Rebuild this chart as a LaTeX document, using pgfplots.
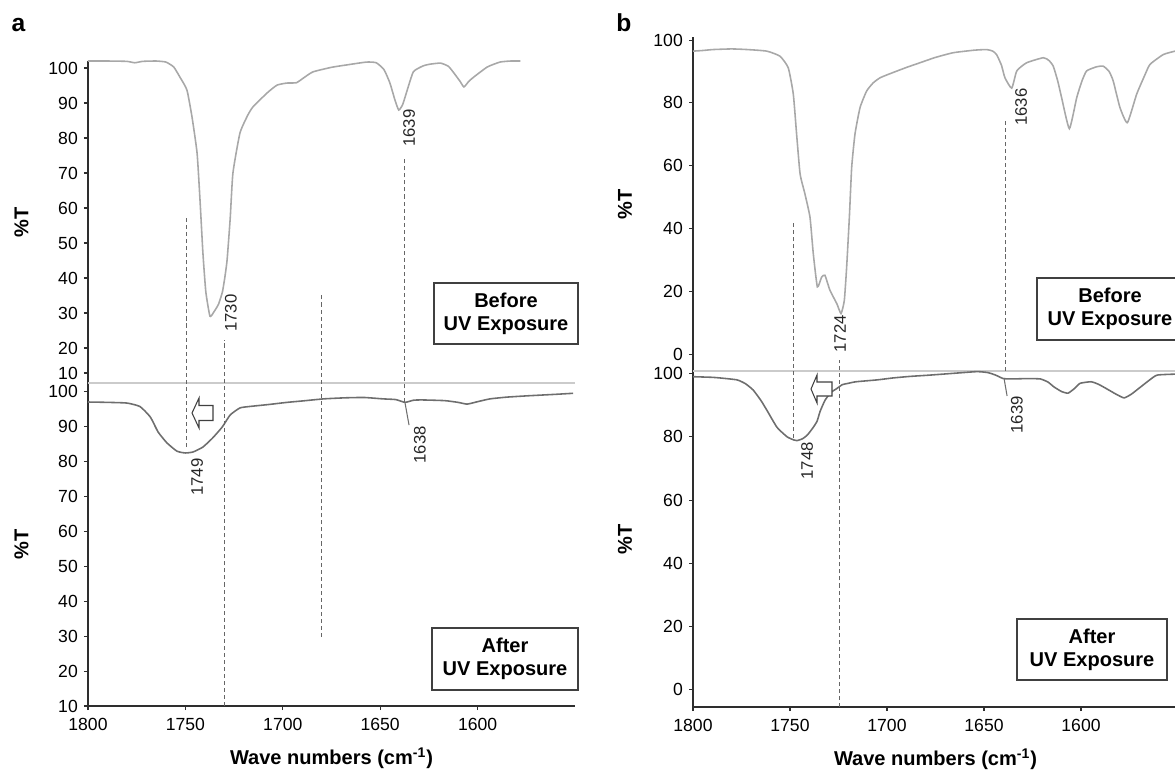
\documentclass[border=0pt]{standalone}
\usepackage{fontspec}
\setmainfont{Liberation Sans}
\usepackage{pgfplots}
\pgfplotsset{compat=1.18}

\definecolor{before}{HTML}{A8A8A8}
\definecolor{after}{HTML}{6E6E6E}
\definecolor{sep}{HTML}{CBCBCB}
\definecolor{axisk}{HTML}{2E2E2E}

% 1 px of the reference = 0.02 cm
\pgfplotsset{
  ir/.style={
    scale only axis, x dir=reverse, xmin=1550, xmax=1800, clip=false,
    axis line style={line width=1.5pt, color=axisk},
    tick style={color=axisk, line width=0.6pt},
    tick align=outside, major tick length=0.08cm,
    tick label style={font=\fontsize{10}{12}\selectfont},
    /pgf/number format/assume math mode=true,
    /pgf/number format/1000 sep={},
    ylabel={\%T},
    every axis x label/.style={at={(axis description cs:0.5,0)}, anchor=center, yshift=-1.04cm,
      font=\bfseries\fontsize{11.4}{13}\selectfont},
    xtick={1600,1650,1700,1750,1800},
    xticklabel style={yshift=-0.05cm},
  },
  upper/.style={ir, hide x axis, axis y line*=left},
  lower/.style={ir, axis lines*=left, xlabel={Wave numbers (cm\textsuperscript{-1})}},
  ylab/.style={every axis y label/.style={at={(axis description cs:#1,0.5)}, rotate=90, anchor=center,
      font=\bfseries\fontsize{11.4}{13}\selectfont}},
}
\tikzset{
  bcurve/.style={color=before, line width=0.9pt},
  acurve/.style={color=after, line width=0.9pt},
  spec/.style={smooth, tension=0.3},
  peak/.style={dash pattern=on 2.3pt off 1.7pt, color=black!60, line width=0.6pt},
  plab/.style={rotate=90, anchor=center, font=\fontsize{9.5}{11}\selectfont, text=black!85},
  stage/.style={draw=black!75, line width=0.6pt, align=center, inner sep=0pt,
      minimum width=2.9cm, minimum height=1.22cm, font=\bfseries\fontsize{11.4}{13.1}\selectfont},
  hollow/.style={draw=black!75, line width=0.6pt, fill=white},
}

\begin{document}
\begin{tikzpicture}
\path[use as bounding box, clip] (0,0) rectangle (23.5,15.4);

% ---------- panel a, before ----------
\begin{axis}[upper, ylab=-0.1366, at={(1.76cm,7.74cm)}, anchor=south west,
  width=9.74cm, height=6.44cm, ymin=10, ymax=102,
  ytick={20,30,...,100}, extra y ticks={12.86}, extra y tick labels={10}]
\addplot[bcurve, spec] coordinates {
 (1800,102.0) (1790,102.0) (1780,101.9) (1776,101.5) (1772,101.9) (1765,102.0) (1760,101.7)
 (1756,100.3) (1752.8,97.4) (1749.2,93.7) (1746.6,86.0) (1744,75.7) (1742.5,62.3) (1741,47.1)
 (1739.5,36.0) (1737.4,29.1) (1735.5,30.2) (1733,32.5) (1731,36.0) (1729.8,40.0) (1728.6,45.1)
 (1727,57.0) (1725.6,70.0) (1722,81.4) (1718,86.5) (1715.3,88.9) (1708,92.9) (1703,95.1)
 (1698,95.7) (1693,95.8) (1689,97.3) (1684.5,98.9) (1675,100.2) (1667,100.9) (1657,101.7)
 (1652,101.5) (1648,99.5) (1645,95.7) (1642.5,91.0) (1640.5,88.0) (1638.5,89.5) (1636.5,93.0)
 (1633,98.9) (1628,100.6) (1624.4,101.1) (1619,101.4) (1615,100.5) (1612.6,98.9) (1609,96.2)
 (1607,94.6) (1604.5,96.2) (1602,97.4) (1595,100.3) (1588.5,101.7) (1583,102.0) (1578,102.0)};
\end{axis}

% ---------- panel a, after ----------
\begin{axis}[lower, ylab=-0.1366, at={(1.76cm,1.28cm)}, anchor=south west,
  width=9.74cm, height=6.46cm, ymin=10, ymax=102.55, ytick={10,20,...,100}]
\draw[sep, line width=1.6pt] (rel axis cs:0,1) -- (rel axis cs:1,1);
\addplot[acurve, spec] coordinates {
 (1800,97.1) (1790,97.0) (1780,96.8) (1773.3,95.8) (1768,92.8) (1764,88.5) (1759.5,85.4)
 (1754.3,83.0) (1750,82.5) (1746,82.8) (1741,84.2) (1736,86.8) (1731,90.0) (1727,93.4)
 (1722,95.4) (1717.3,95.8) (1707,96.4) (1697.8,97.0) (1690,97.4) (1679,98.0) (1668,98.3)
 (1658.3,98.4) (1648.6,98.0) (1642,97.8) (1637.3,97.0) (1633,97.6) (1629,97.7) (1617,97.5)
 (1610,97.0) (1605.4,96.5) (1600,97.2) (1593.6,98.0) (1585,98.5) (1573.6,98.9) (1560,99.3) (1551,99.6)};
\draw[peak] (axis cs:1749.6,84.2) -- (axis cs:1749.6,149.8);
\draw[peak] (axis cs:1730,10) -- (axis cs:1730,114.9);
\draw[peak] (axis cs:1680,29.8) -- (axis cs:1680,128.3);
\draw[peak] (axis cs:1637.3,97.0) -- (axis cs:1637.3,167);
\draw[acurve, line width=0.6pt] (axis cs:1637.3,97.0) -- (axis cs:1635.2,90.5);
\node[plab] at (axis cs:1744,75.6) {1749};
\node[plab] at (axis cs:1726.6,122.6) {1730};
\node[plab] at (axis cs:1635.2,175.6) {1639};
\node[plab] at (axis cs:1629.6,84.8) {1638};
\end{axis}

% ---------- panel b, before ----------
\begin{axis}[upper, ylab=-0.140, at={(13.86cm,7.98cm)}, anchor=south west,
  width=9.70cm, height=6.68cm, ymin=-5.4, ymax=101, ytick={0,20,...,100}]
\addplot[bcurve, spec] coordinates {
 (1800,96.5) (1795,96.7) (1789.7,97.0) (1780,97.2) (1772,97.0) (1762,96.5) (1755.2,94.9)
 (1750.9,91.2) (1748.3,82.8) (1746.6,70.1) (1744.8,57.4) (1742.3,51.0) (1739.7,43.6) (1738,32.0)
 (1735.9,21.4) (1733.7,24.5) (1732,25.1) (1729.4,20.3) (1725.9,16.1) (1723.7,12.9) (1722,17.1)
 (1720.8,27.7) (1719.4,43.6) (1718.2,59.5) (1716.5,70.1) (1713.9,78.5) (1710.5,83.8) (1707.1,86.4)
 (1703.6,88.0) (1698.5,89.3) (1690,91.3) (1683,92.8) (1675,94.5) (1665.8,96.0) (1655,96.8)
 (1648.6,97.0) (1645.5,96.5) (1643.5,95.4) (1641,92.0) (1639.2,88.0) (1635.7,84.7) (1633.1,90.2)
 (1628,92.8) (1619.4,94.4) (1616.5,93.5) (1614.3,91.7) (1612,87.0) (1610,81.7) (1606,71.8)
 (1602.2,81.7) (1599.5,87.0) (1597.1,90.2) (1592,91.5) (1588.5,91.7) (1585.5,90.0) (1583.4,87.0)
 (1579.9,78.5) (1576.1,73.7) (1571.3,82.8) (1567,89.0) (1564.4,92.3) (1557.6,95.4) (1551.5,96.5) (1550,96.6)};
\end{axis}

% ---------- panel b, after ----------
\begin{axis}[lower, ylab=-0.140, at={(13.86cm,1.26cm)}, anchor=south west,
  width=9.70cm, height=6.72cm, ymin=-5.4, ymax=100.8, ytick={0,20,...,100}]
\draw[sep, line width=1.6pt] (rel axis cs:0,1) -- (rel axis cs:1,1);
\addplot[acurve, spec] coordinates {
 (1800,99.0) (1790,98.8) (1786,98.6) (1777.3,98.0) (1773,96.8) (1769,94.8) (1765,91.5)
 (1762,88.5) (1756.7,83.0) (1751.5,80.0) (1748,79.0) (1746.4,78.8) (1743.5,79.4) (1741,80.6)
 (1738,83.0) (1736,85.0) (1734.5,88.0) (1732,91.5) (1729,94.0) (1726,95.2) (1723,96.5)
 (1720,96.9) (1716,97.4) (1705,98.0) (1697,98.6) (1688,99.1) (1678,99.5) (1665,100.1)
 (1653.6,100.6) (1648,100.3) (1644,99.5) (1640,98.4) (1635,98.3) (1628,98.4) (1621,98.3)
 (1617,97.3) (1614,95.8) (1610,94.3) (1606.7,93.8) (1603.5,95.2) (1600.5,96.9) (1594.8,97.4)
 (1591,96.6) (1587.4,95.4) (1582,93.5) (1577.8,92.3) (1574,93.5) (1570,95.4) (1565,97.8)
 (1560.8,99.5) (1552,99.8) (1550,99.8)};
\draw[peak] (axis cs:1748,79.6) -- (axis cs:1748,147.9);
\draw[peak] (axis cs:1724.7,-5.4) -- (axis cs:1724.7,104.3);
\draw[peak] (axis cs:1638.7,100.8) -- (axis cs:1638.7,180);
\draw[acurve, line width=0.6pt] (axis cs:1639.7,98.6) -- (axis cs:1638.1,92.9);
\node[plab] at (axis cs:1724.2,112.5) {1724};
\node[plab] at (axis cs:1630.9,184.2) {1636};
\node[plab] at (axis cs:1741.2,72.4) {1748};
\node[plab] at (axis cs:1633,86.9) {1639};
\end{axis}

% ---------- annotations ----------
\node[anchor=base, font=\bfseries\fontsize{14}{16}\selectfont] at (0.37,14.76) {a};
\node[anchor=base, font=\bfseries\fontsize{14}{16}\selectfont] at (12.48,14.76) {b};

\node[stage, minimum width=2.88cm] at (10.12,9.13) {Before\\UV Exposure};
\node[stage, minimum width=2.92cm, minimum height=1.24cm] at (10.10,2.22) {After\\UV Exposure};
\node[stage, minimum width=2.92cm, minimum height=1.24cm] at (22.2,9.22) {Before\\UV Exposure};
\node[stage, minimum width=3.0cm] at (21.84,2.41) {After\\UV Exposure};

\draw[hollow] (3.84,7.14) -- (3.98,7.44) -- (3.98,7.29) -- (4.26,7.29) -- (4.26,6.99)
  -- (3.98,6.99) -- (3.98,6.84) -- cycle;
\draw[hollow] (16.22,7.62) -- (16.34,7.90) -- (16.34,7.76) -- (16.64,7.76) -- (16.64,7.48)
  -- (16.34,7.48) -- (16.34,7.34) -- cycle;
\end{tikzpicture}
\end{document}
